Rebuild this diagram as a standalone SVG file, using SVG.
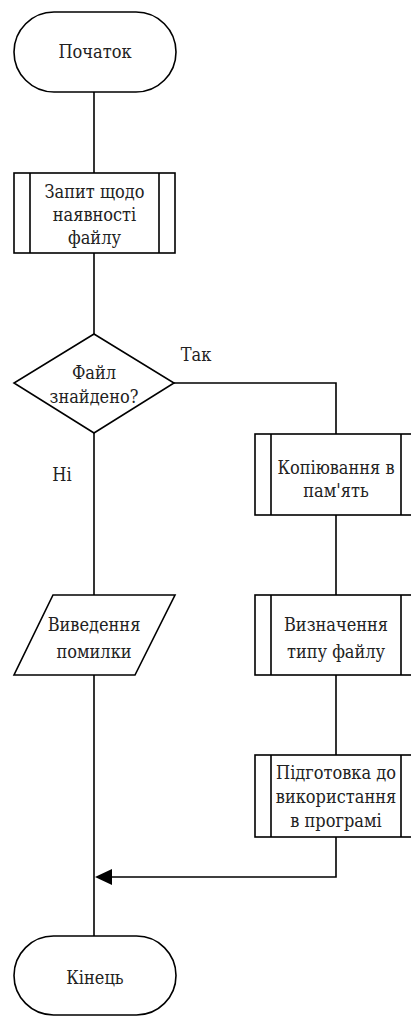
<svg xmlns="http://www.w3.org/2000/svg" width="411" height="1017" viewBox="0 0 411 1017">
<style>
.s{fill:#fff;stroke:#000;stroke-width:1.6}
.l{fill:none;stroke:#000;stroke-width:1.6}
.t{font-family:'DejaVu Serif Condensed','DejaVu Serif',serif;font-stretch:condensed;font-size:18px;fill:#222;text-anchor:middle}
</style>
<g id="connectors">
<path class="l" d="M94,92 V173"/>
<path class="l" d="M94,253 V334"/>
<path class="l" d="M174,383 H336 V434"/>
<path class="l" d="M94,433 V595"/>
<path class="l" d="M336,515 V595"/>
<path class="l" d="M336,675 V755"/>
<path class="l" d="M94,675 V936"/>
<path class="l" d="M336,837 V877 H112"/>
<path d="M95,877 L112,869 L112,885 Z" fill="#000"/>
<text class="t" x="196" y="361">Так</text>
<text class="t" x="62" y="481">Ні</text>
</g>
<g id="start">
<rect class="s" x="14" y="12" width="162" height="80" rx="40"/>
<text class="t" x="95" y="58">Початок</text>
</g>
<g id="request">
<rect class="s" x="14" y="173" width="161" height="80"/>
<path class="l" d="M30,173 V253 M159,173 V253"/>
<text class="t" x="94.5" y="198">Запит щодо</text>
<text class="t" x="94.5" y="221">наявності</text>
<text class="t" x="94.5" y="244">файлу</text>
</g>
<g id="decision">
<polygon class="s" points="94,334 174,383 94,433 14,383"/>
<text class="t" x="94" y="379">Файл</text>
<text class="t" x="94" y="403">знайдено?</text>
</g>
<g id="copy">
<rect class="s" x="255" y="434" width="162" height="81"/>
<path class="l" d="M271,434 V515 M401,434 V515"/>
<text class="t" x="336" y="474">Копіювання в</text>
<text class="t" x="336" y="497">пам'ять</text>
</g>
<g id="error">
<polygon class="s" points="53,595 175,595 135,675 14,675"/>
<text class="t" x="94" y="631">Виведення</text>
<text class="t" x="94" y="658">помилки</text>
</g>
<g id="type">
<rect class="s" x="255" y="595" width="162" height="80"/>
<path class="l" d="M271,595 V675 M401,595 V675"/>
<text class="t" x="336" y="631">Визначення</text>
<text class="t" x="336" y="658">типу файлу</text>
</g>
<g id="prepare">
<rect class="s" x="255" y="755" width="162" height="82"/>
<path class="l" d="M271,755 V837 M401,755 V837"/>
<text class="t" x="336" y="779">Підготовка до</text>
<text class="t" x="336" y="803">використання</text>
<text class="t" x="336" y="827">в програмі</text>
</g>
<g id="end">
<rect class="s" x="14" y="936" width="162" height="79" rx="39.5"/>
<text class="t" x="95" y="984">Кінець</text>
</g>
</svg>
